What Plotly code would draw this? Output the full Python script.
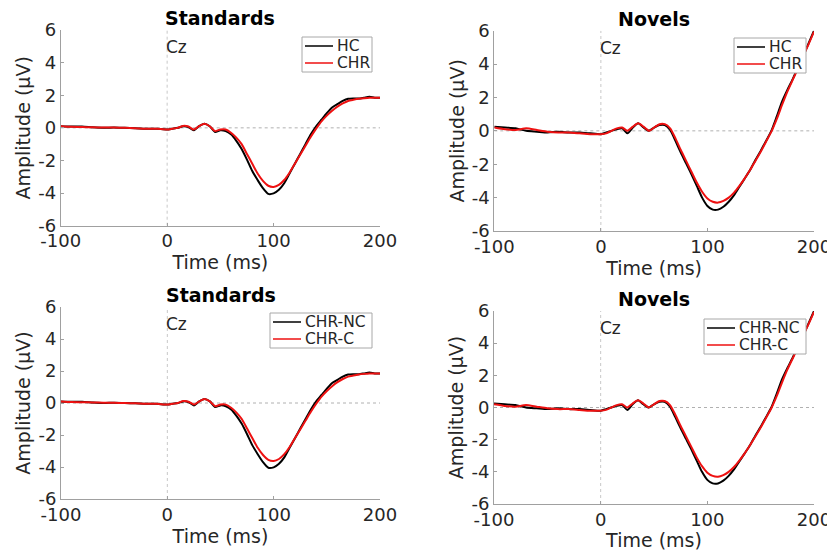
import plotly.graph_objects as go

# ---------------- data ----------------
time_std = [-100, -90, -80, -70, -60, -50, -40, -30, -20, -10, 0, 5, 10, 15, 20, 25, 30, 35, 40, 45, 50,
            55, 60, 65, 70, 75, 80, 85, 90, 95, 100, 105, 110, 115, 120, 125, 130, 135, 140, 145,
            150, 155, 160, 165, 170, 175, 180, 185, 190, 195, 200]
std_group1 = [0.1, 0.08, 0.08, 0.03, 0.0, 0.02, 0.0, -0.02, -0.05, -0.05, -0.1, -0.05, 0.0, 0.1, 0.05, -0.15,
              0.1, 0.25, 0.1, -0.25, -0.15, -0.2, -0.4, -0.8, -1.3, -1.95, -2.65, -3.2, -3.7, -4.05,
              -4.02, -3.8, -3.4, -2.8, -2.2, -1.6, -1.0, -0.4, 0.1, 0.5, 0.9, 1.25, 1.45, 1.65,
              1.78, 1.8, 1.8, 1.85, 1.9, 1.85, 1.85]
std_group2 = [0.1, 0.06, 0.05, 0.03, 0.02, 0.02, 0.0, -0.02, -0.05, -0.05, -0.1, -0.05, 0.0, 0.12, 0.08, -0.1,
              0.1, 0.25, 0.1, -0.2, -0.1, -0.1, -0.3, -0.6, -1.0, -1.6, -2.2, -2.8, -3.25, -3.55,
              -3.62, -3.5, -3.2, -2.75, -2.2, -1.65, -1.1, -0.55, -0.05, 0.4, 0.75, 1.05, 1.3, 1.5,
              1.65, 1.72, 1.78, 1.82, 1.85, 1.85, 1.85]

time_nov = time_std
nov_group1 = [0.25, 0.2, 0.15, 0.0, -0.05, -0.1, -0.05, -0.1, -0.1, -0.15, -0.2, -0.1, 0.0, 0.1, 0.15, -0.15,
              0.2, 0.45, 0.2, 0.0, 0.2, 0.35, 0.35, 0.05, -0.6, -1.3, -1.95, -2.6, -3.3, -4.0,
              -4.5, -4.72, -4.72, -4.55, -4.25, -3.85, -3.35, -2.85, -2.35, -1.75, -1.2, -0.6, 0.0, 0.85,
              1.75, 2.45, 3.1, 3.8, 4.5, 5.25, 6.0]
nov_group2 = [0.2, 0.1, 0.05, 0.15, 0.05, -0.05, -0.1, -0.1, -0.15, -0.2, -0.2, -0.15, 0.0, 0.15, 0.2, 0.0,
              0.25, 0.45, 0.25, 0.0, 0.2, 0.4, 0.4, 0.15, -0.45, -1.15, -1.8, -2.45, -3.1, -3.65,
              -4.05, -4.25, -4.3, -4.2, -4.0, -3.7, -3.3, -2.85, -2.35, -1.8, -1.25, -0.65, -0.05, 0.7,
              1.55, 2.35, 3.05, 3.75, 4.5, 5.2, 5.95]

titles = ["Standards", "Novels", "Standards", "Novels"]
legend_names = [["HC", "CHR"], ["HC", "CHR"], ["CHR-NC", "CHR-C"], ["CHR-NC", "CHR-C"]]
x_ticks = [-100, 0, 100, 200]
x_tick_text = ["-100", "0", "100", "200"]
y_ticks = [-6, -4, -2, 0, 2, 4, 6]
y_tick_text = ["-6", "-4", "-2", "0", "2", "4", "6"]
electrode = "Cz"
series_colors = ["black", "#ee1111"]

panels = [
    (time_std, std_group1, std_group2),
    (time_nov, nov_group1, nov_group2),
    (time_std, std_group1, std_group2),
    (time_nov, nov_group1, nov_group2),
]

# ---------------- layout geometry (window pixels) ----------------
OFF = 8                      # page body margin
W, H = 835 - OFF, 551 - OFF  # figure size
boxes = [(60.7, 380, 30, 225.7), (494.3, 814, 30.7, 231), (61, 380, 307, 499), (494, 814, 311, 504)]
# legend boxes: left, top, right, bottom
legend_boxes = [(302, 37, 372, 72), (734, 38, 806, 73), (270, 313, 372, 348), (704, 319, 806, 354)]


def px(xp):
    return (xp - OFF) / W


def py(yp):
    return 1 - (yp - OFF) / H


FONT = "DejaVu Sans"
TXT = "#262626"
fig = go.Figure()
layout = dict(template="none", width=W, height=H, margin=dict(l=0, r=0, t=0, b=0, autoexpand=False),
              plot_bgcolor="white", paper_bgcolor="white", showlegend=False,
              font=dict(family=FONT, color=TXT, size=17))
annotations = []
shapes = []
for i, ((t, g1, g2), (l, r, tp, bt)) in enumerate(zip(panels, boxes)):
    n = "" if i == 0 else str(i + 1)
    xa, ya = "x" + n, "y" + n
    for name, vals, col in zip(legend_names[i], (g1, g2), series_colors):
        fig.add_trace(go.Scatter(x=t, y=vals, mode="lines", name=name, xaxis=xa, yaxis=ya,
                                 line=dict(color=col, width=2, shape="spline", smoothing=0.6)))
    axcommon = dict(showgrid=False, zeroline=False, showline=True, linecolor="#a0a0a0", linewidth=1,
                    ticks="inside", ticklen=3, tickcolor="#a0a0a0", automargin=False,
                    tickfont=dict(size=18, family=FONT, color=TXT))
    layout["xaxis" + n] = dict(domain=[px(l), px(r)], range=[-100, 200], tickvals=x_ticks,
                               ticktext=x_tick_text, anchor=ya, ticklabelstandoff=-1,
                               title=dict(text="Time (ms)", standoff=0, font=dict(size=19, color=TXT)),
                               **axcommon)
    layout["yaxis" + n] = dict(domain=[py(bt), py(tp)], range=[-6, 6], tickvals=y_ticks,
                               ticktext=y_tick_text, anchor=xa,
                               title=dict(text="Amplitude (µV)", standoff=2, font=dict(size=19, color=TXT)),
                               **axcommon)
    annotations.append(dict(text="<b>" + titles[i] + "</b>", x=px((l + r) / 2), y=py(tp - 12),
                            xref="paper", yref="paper", xanchor="center", yanchor="middle",
                            showarrow=False, font=dict(size=19, family=FONT, color="black")))
    annotations.append(dict(text=electrode, x=0, y=4.95, xref=xa, yref=ya, xanchor="left", yanchor="middle",
                            showarrow=False, xshift=-3, font=dict(size=17, family=FONT, color=TXT)))
    shapes.append(dict(type="line", xref=xa, yref=ya, x0=-100, x1=200, y0=0, y1=0,
                       line=dict(color="#b0b0b0", width=1, dash="dot"), layer="below"))
    shapes.append(dict(type="line", xref=xa, yref=ya, x0=0, x1=0, y0=-6, y1=6,
                       line=dict(color="#c8c8c8", width=1, dash="dot"), layer="below"))
    # legend box (MATLAB style)
    bl, btp, br, bbt = legend_boxes[i]
    shapes.append(dict(type="rect", xref="paper", yref="paper", x0=px(bl), x1=px(br), y0=py(bbt), y1=py(btp),
                       line=dict(color="#a8a8a8", width=1), fillcolor="white", layer="above"))
    for k, (name, col) in enumerate(zip(legend_names[i], series_colors)):
        yy = btp + 9 + 17 * k
        shapes.append(dict(type="line", xref="paper", yref="paper", x0=px(bl + 3), x1=px(bl + 31),
                           y0=py(yy), y1=py(yy), line=dict(color=col, width=1.5), layer="above"))
        annotations.append(dict(text=name, x=px(bl + 34), y=py(yy), xref="paper", yref="paper",
                                xanchor="left", yanchor="middle", showarrow=False, borderpad=0,
                                font=dict(size=15.5, family=FONT, color=TXT)))

layout["annotations"] = annotations
layout["shapes"] = shapes
fig.update_layout(**layout)
fig.write_html("out.html")
